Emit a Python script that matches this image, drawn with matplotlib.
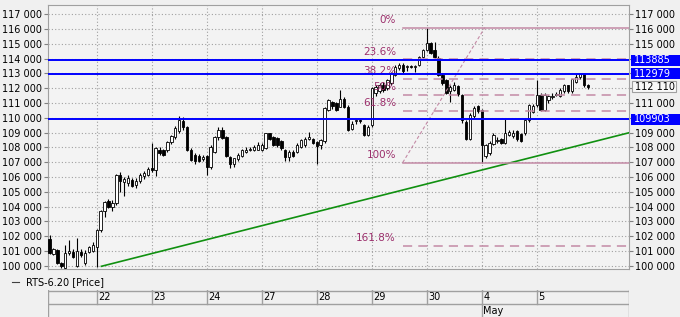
import matplotlib
matplotlib.use("Agg")
import matplotlib.pyplot as plt
from matplotlib.lines import Line2D
from matplotlib.patches import Rectangle
import numpy as np

# --- data (hourly candles, RTS-6.20) ---
day_names = ['21', '22', '23', '24', '27', '28', '29', '30', '4', '5']
bars_per_day = [12, 14, 14, 14, 14, 14, 14, 14, 14, 14]
month_start_day = '4'
month_label = 'May'

opens = [101800, 100800, 101060, 100160, 99850, 100850, 100950, 100000, 100950, 100160, 100950, 101000,
         101250, 102400, 103700, 104400, 104000, 104250, 106100, 105650, 105600, 105800, 105450, 105700, 106050, 106150,
         106600, 106450, 107850, 107800, 107800, 108350, 108700, 109100, 109800, 109350, 107850, 107500, 107450, 107200,
         107450, 106650, 107700, 108700, 109150, 108700, 107350, 106900, 107200, 107400, 107700, 107850, 107820, 107850,
         107850, 107950, 108950, 108700, 108650, 108400, 107800, 107350, 107700, 107700, 108050, 108150, 108550, 108540,
         108380, 108160, 108400, 110550, 111050, 111000, 110750, 111300, 110750, 109250, 109800, 109850, 109500, 108850,
         109500, 111650, 111800, 112250, 112000, 112350, 112900, 113350, 113600, 113450, 113500, 113450, 113570, 114130,
         114580, 115030, 114580, 114050, 112900, 112550, 111800, 111900, 112150, 111550, 109750, 108600, 110100, 110800,
         110530, 107400, 107600, 108250, 108450, 108550, 108300, 108850, 108750, 109100, 108900, 108950, 109850, 110400,
         110860, 111540, 110530, 111200, 111400, 111550, 111500, 111800, 112200, 111800, 112450, 112740, 112960, 112250]
highs = [102050, 101200, 101100, 100250, 101400, 101740, 101100, 101870, 101100, 101060, 101350, 101600,
         102500, 103800, 104400, 104500, 104450, 106200, 106350, 106000, 106150, 105950, 105900, 106250, 106400, 106650,
         108300, 108050, 108000, 107900, 108450, 108850, 109450, 110100, 110050, 109450, 107950, 107600, 107550, 107500,
         107500, 108150, 108800, 109400, 109400, 108800, 107400, 107300, 107600, 107900, 108000, 108050, 108150, 108350,
         108300, 109000, 109000, 108800, 108700, 108500, 107900, 107800, 107800, 108300, 108600, 108700, 109050, 108650,
         108450, 108600, 110750, 111300, 111150, 111100, 111900, 111400, 110850, 109800, 109950, 109950, 109600, 109500,
         112100, 112200, 112350, 112400, 112650, 113100, 113550, 113700, 113700, 113600, 113600, 113600, 114200, 114650,
         116105, 115100, 115150, 114150, 113000, 112650, 112250, 112450, 112250, 111600, 109850, 110300, 110800, 110900,
         110600, 108250, 108400, 108950, 108700, 108650, 109950, 109200, 109150, 109200, 109000, 109950, 110950, 110950,
         112550, 111650, 111650, 111550, 111650, 111750, 112000, 112300, 112250, 112650, 112950, 113000, 113000, 112300]
lows = [100800, 100700, 100100, 99850, 99800, 100700, 100500, 99900, 100600, 100050, 100850, 100900,
        99900, 102300, 103300, 103900, 103700, 104100, 105000, 104700, 105400, 105300, 105250, 105600, 105850, 106050,
        106350, 106050, 107500, 107400, 107700, 108200, 108600, 109000, 109200, 107750, 107050, 106900, 107000, 107100,
        106150, 106550, 107600, 108500, 108550, 107350, 106600, 106700, 107100, 107350, 107650, 107750, 107750, 107800,
        107750, 107900, 108500, 108100, 108050, 107850, 107050, 107050, 107350, 107600, 107950, 108050, 108500, 108200,
        106900, 107900, 108300, 110450, 110600, 110450, 110700, 110650, 109100, 109150, 109600, 109650, 108750, 108750,
        109400, 111500, 111700, 111750, 111900, 112250, 112800, 113250, 113050, 113150, 113350, 113100, 113500, 114050,
        114500, 114300, 114050, 112800, 112250, 111600, 111100, 111800, 111500, 109650, 108500, 108500, 110000, 110350,
        106975, 107300, 107500, 108150, 108300, 108200, 108200, 108750, 108650, 108450, 108350, 108850, 109750, 110300,
        110750, 110450, 110450, 111000, 111300, 111450, 111400, 111700, 111700, 111700, 112350, 112650, 112100, 111950]
closes = [100850, 101100, 100160, 99950, 100840, 101000, 100600, 101000, 100700, 100840, 101250, 101400,
          102400, 103700, 104300, 104000, 104250, 106100, 105700, 105850, 105950, 105400, 105750, 106150, 106300, 106550,
          106450, 107950, 107600, 107500, 108350, 108750, 109300, 109850, 109350, 107850, 107150, 107100, 107100, 107370,
          106700, 108050, 108700, 109150, 108650, 107450, 106850, 107250, 107500, 107800, 107850, 107900, 108050, 108150,
          108150, 108950, 108600, 108150, 108150, 107950, 107350, 107700, 107450, 108150, 108500, 108600, 108700, 108310,
          108090, 108500, 110640, 111200, 110800, 110550, 111300, 110750, 109170, 109600, 109850, 109800, 108850, 109400,
          112000, 112100, 112250, 111850, 112550, 113000, 113450, 113600, 113150, 113500, 113450, 113500, 114100, 114580,
          115030, 114400, 114130, 112900, 112350, 111700, 112100, 112200, 111600, 109850, 108600, 110200, 110650, 110450,
          108160, 108150, 108300, 108850, 108500, 108300, 109000, 109050, 109000, 108550, 108450, 109850, 110860, 110800,
          111540, 110530, 111540, 111450, 111500, 111600, 111850, 112200, 111800, 112600, 112780, 112950, 112200, 112110]

# drawn objects
blue_levels = [113885, 112979, 109903]
trend_x = [13.2, 147.5]
trend_y = [99960, 108990]
fib_ratios = [0.0, 0.236, 0.382, 0.5, 0.618, 1.0, 1.618]
fib_labels = ['0%', '23.6%', '38.2%', '50%', '61.8%', '100%', '161.8%']
fib_x_start = 89.9
fib_diag_end = 110.8
legend_label = 'RTS-6.20 [Price]'

BG = '#f0f0f0'
GRID = '#a0a0a0'
FIB = '#c48aa6'
FIB_TXT = '#9c2f6c'
BLUE = '#0000ff'

W, H = 680, 317
fig = plt.figure(figsize=(W / 100, H / 100), dpi=100, facecolor=BG)
L, R, T, B = 48, 629, 5, 269
ax = fig.add_axes([L / W, 1 - B / H, (R - L) / W, (B - T) / H], facecolor='#f3f3f3')

n = len(closes)
x = np.arange(n)
xmin, xmax = -0.4, 147.5
ymin, ymax = 99777, 117629
ax.set_xlim(xmin, xmax)
ax.set_ylim(ymin, ymax)
px_y = (ymax - ymin) / (B - T)   # price per pixel

# day boundaries
day_start = np.cumsum([0] + bars_per_day[:-1])

ax.set_xticks(day_start[1:])
ax.set_xticklabels([])
ax.tick_params(axis='x', length=0)
yt = np.arange(100000, 117001, 1000)
ax.set_yticks(yt)
ax.set_yticklabels([f"{v:,.0f}".replace(',', ' ') for v in yt])
ax.tick_params(axis='y', left=True, right=True, labelleft=True, labelright=True,
               length=3, pad=1.5, labelsize=7, color='#808080')
ax.grid(True, linestyle=(0, (1, 2)), color=GRID, linewidth=0.8, zorder=0)
for s in ax.spines.values():
    s.set_color(GRID)

# candles
o = np.array(opens); h = np.array(highs); l = np.array(lows); c = np.array(closes)
up = c >= o
ax.vlines(x, l, h, color='black', linewidth=0.8, zorder=2)
body_lo = np.minimum(o, c)
body_h = np.maximum(np.abs(c - o), 25)
ax.bar(x[up], body_h[up], bottom=body_lo[up], width=0.6, color='white',
       edgecolor='black', linewidth=0.6, zorder=3)
ax.bar(x[~up], body_h[~up], bottom=body_lo[~up], width=0.6, color='black',
       edgecolor='black', linewidth=0.6, zorder=3)

# trend line
ax.plot(trend_x, trend_y, color='#109010', linewidth=1.2, zorder=4)

# fibonacci
hi_i = int(np.argmax(h))
fib_hi = h[hi_i]
fib_lo = l[hi_i:].min()
rng = fib_hi - fib_lo
for r, lab in zip(fib_ratios, fib_labels):
    lev = fib_hi - r * rng
    ls = '-' if r in (0.0, 1.0) else (0, (6, 4))
    ax.plot([fib_x_start, xmax], [lev, lev], color=FIB, linewidth=1.1, linestyle=ls, zorder=4)
    ax.text(fib_x_start - 1.7, lev + 180, lab, color=FIB_TXT, fontsize=7.5,
            ha='right', va='bottom', zorder=5)
ax.plot([fib_x_start, fib_diag_end], [fib_lo, fib_hi], color=FIB, linewidth=0.8,
        linestyle=(0, (3, 2)), zorder=4)

# right-side price boxes
ytr = ax.get_yaxis_transform()
box_x0 = 2 / (R - L) + 1.0
box_w = (W - R) / (R - L)
half = 5.5 * px_y
last = closes[-1]
box_levels = blue_levels + [last]

for lev in blue_levels:
    ax.axhline(lev, color=BLUE, linewidth=1.4, zorder=5)
    ax.add_patch(Rectangle((box_x0, lev - half), box_w, 2 * half, transform=ytr,
                           facecolor=BLUE, edgecolor='none', clip_on=False, zorder=6))
    ax.text(box_x0 + 3 / (R - L), lev, f"{lev}", transform=ytr, color='white', fontsize=7,
            ha='left', va='center', clip_on=False, zorder=7)

ax.add_patch(Rectangle((box_x0 + 1 / (R - L), last - half), 44 / (R - L), 2 * half, transform=ytr,
                       facecolor='#f8f8f8', edgecolor='#a0a0a0', linewidth=0.8,
                       clip_on=False, zorder=6))
ax.text(box_x0 + 4 / (R - L), last, f"{last:,.0f}".replace(',', ' '), transform=ytr,
        color='black', fontsize=7, ha='left', va='center', clip_on=False, zorder=7)

# hide right tick labels covered by the boxes
for tk, v in zip(ax.yaxis.get_major_ticks(), yt):
    if min(abs(v - b) for b in box_levels) < 11 * px_y:
        tk.label2.set_visible(False)

# legend
fig.add_artist(Line2D([12 / W, 19 / W], [1 - 282 / H] * 2, color='#404040', linewidth=0.8))
fig.text(26 / W, 1 - 282 / H, legend_label, fontsize=7, va='center', ha='left')

# date axis
dax = fig.add_axes([L / W, 0, (R - L) / W, 27 / H])
dax.set_xlim(xmin, xmax)
dax.set_ylim(0, 27)
dax.axis('off')
bc = '#a0a0a0'
dax.plot([xmin, xmax], [26.5, 26.5], color=bc, linewidth=1)
dax.plot([xmin, xmax], [13, 13], color=bc, linewidth=1)
dax.plot([xmin, xmin], [0, 27], color=bc, linewidth=1)
dax.plot([xmax, xmax], [0, 27], color=bc, linewidth=1)
for ds, name in zip(day_start[1:], day_names[1:]):
    dax.plot([ds, ds], [13, 27], color=bc, linewidth=1)
    dax.text(ds + 0.45, 20, name, fontsize=7, ha='left', va='center')
    if name == month_start_day:
        dax.plot([ds, ds], [0, 13], color=bc, linewidth=1)
        dax.text(ds + 0.45, 6.5, month_label, fontsize=7, ha='left', va='center')

fig.savefig('out.png', dpi=100, facecolor=BG)
